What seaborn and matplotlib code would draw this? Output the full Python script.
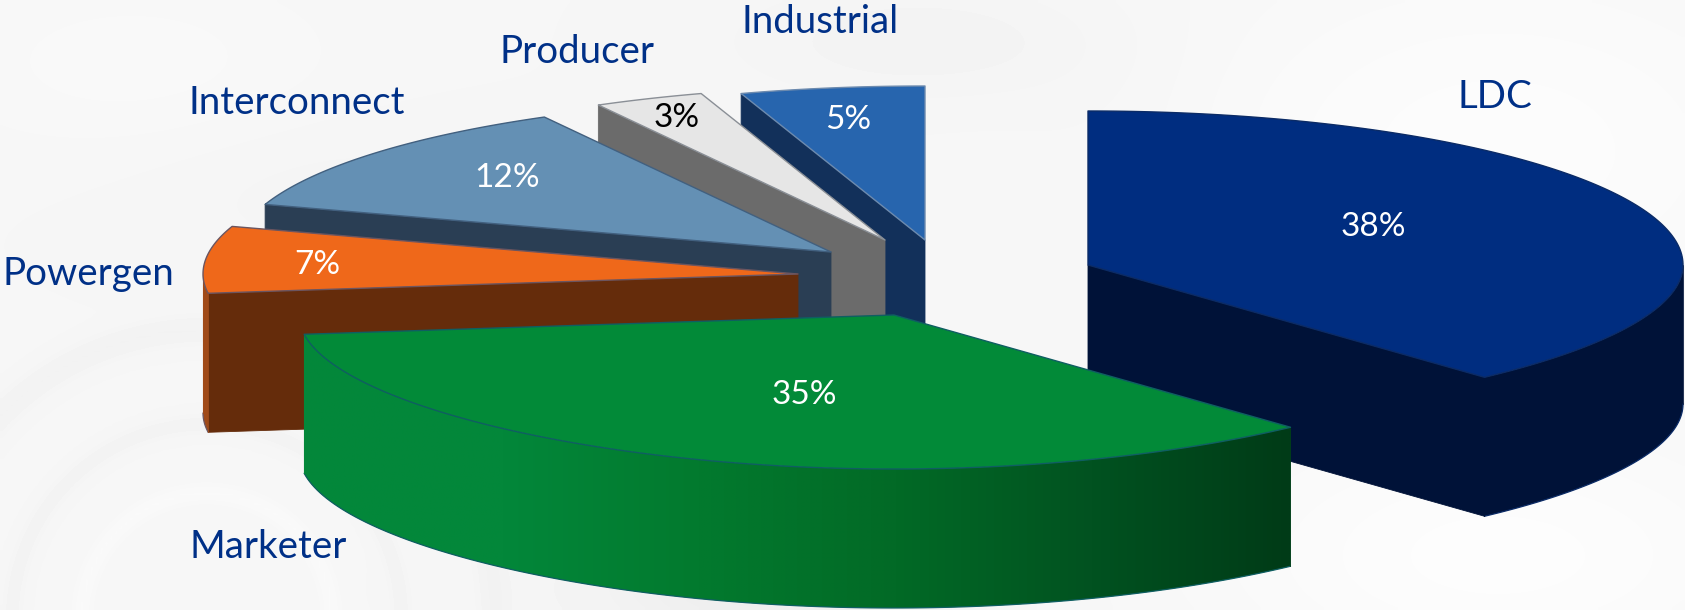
import numpy as np
import matplotlib
matplotlib.use("Agg")
import matplotlib.pyplot as plt
from matplotlib.patches import Polygon
import seaborn as sns

# Customer mix, clockwise from twelve o'clock
names = ["LDC", "Marketer", "Powergen", "Interconnect", "Producer", "Industrial"]
shares = [38, 35, 7, 12, 3, 5]

# Slice styling
top_colors = ["#002D80", "#028A38", "#EF681A", "#6490B4", "#E6E6E6", "#2765AE"]
cut_colors = ["#001238", "#028A38", "#652C0B", "#2A3E54", "#6B6B6B", "#12305A"]
rim_colors = [["#001238", "#001238"],
              ["#03883A", "#03873A", "#027A2E", "#026A26", "#015220", "#003B17"],
              ["#A04A18", "#A04A18"], ["#2A3E54", "#2A3E54"],
              ["#6B6B6B", "#6B6B6B"], ["#12305A", "#12305A"]]
edge_colors = ["#0B2B66", "#0F5E62", "#6B5560", "#42607F", "#8A8F96", "#6C8AAE"]
percent_colors = ["white", "white", "white", "white", "black", "white"]

# Where each slice is pulled out to, and where its captions sit
apex_x = [1088, 894, 798, 831, 885, 925]
apex_y = [265, 315, 274, 252, 240, 240]
name_xy = [(1495, 97), (268, 547), (88, 274), (297, 103), (577, 52), (820, 22)]
percent_xy = [(1373, 227), (804, 395), (317, 265), (507, 178), (677, 118), (848, 120)]

RX, RY, DEPTH = 595, 154, 139
TEXT_BLUE = "#003087"

sns.set_theme(style="white")
plt.rcParams["font.family"] = ["Lato", "DejaVu Sans"]

fig = plt.figure(figsize=(16.85, 6.10), dpi=100)
ax = fig.add_axes([0, 0, 1, 1])
ax.set_xlim(0, 1685)
ax.set_ylim(610, 0)
ax.axis("off")

# Pale watermark behind the pie: soft patches plus faint rings at lower left
gx, gy = np.meshgrid(np.linspace(0, 1685, 340), np.linspace(0, 610, 124))
field = np.full_like(gx, 0.965)
for cx, cy, sx, sy, amp in [(1500, 150, 330, 200, 0.022), (1500, 560, 300, 130, 0.025),
                            (760, 590, 170, 60, -0.035), (930, 40, 190, 60, -0.012),
                            (130, 60, 200, 90, 0.010), (330, 190, 200, 80, -0.006),
                            (1120, 130, 110, 90, -0.004)]:
    field += amp * np.exp(-((gx - cx) / sx) ** 2 - ((gy - cy) / sy) ** 2)
ring_dist = np.hypot(gx - 205, gy - 620)
for r0, width, amp in [(125, 10, 0.012), (195, 10, -0.012), (290, 14, -0.016)]:
    field += amp * np.exp(-((ring_dist - r0) / width) ** 2)
ax.imshow(field, extent=(0, 1685, 610, 0), cmap="gray", vmin=0, vmax=1,
          aspect="auto", zorder=0, interpolation="bilinear")


def rim_point(x0, y0, theta):
    # The front half of the disc is drawn slightly narrower than the back
    front = np.minimum(np.cos(theta), 0.0)
    return x0 + RX * np.sin(theta) * (1 - 0.05 * front ** 2), y0 - RY * np.cos(theta)


def cut_face(x0, y0, theta, color):
    px, py = rim_point(x0, y0, theta)
    return Polygon([(x0, y0), (px, py), (px, py + DEPTH), (x0, y0 + DEPTH)],
                   closed=True, fc=color, ec=color, lw=0.6, zorder=3)


# Slice boundaries come straight from the shares
bounds = np.radians(np.cumsum([0] + shares) * 3.6)

# Back slices first, the large front slice last
for i in [5, 4, 3, 2, 0, 1]:
    a0, a1 = bounds[i], bounds[i + 1]
    x0, y0 = apex_x[i], apex_y[i]

    if np.sin(a0) < -1e-6:
        ax.add_patch(cut_face(x0, y0, a0, cut_colors[i]))
    if np.sin(a1) > 1e-6:
        ax.add_patch(cut_face(x0, y0, a1, cut_colors[i]))

    # Outer wall: only the part of the rim that faces the viewer
    r0, r1 = max(a0, np.pi / 2), min(a1, 3 * np.pi / 2)
    if r1 > r0:
        rim = np.linspace(r0, r1, 120)
        xs, ys = rim_point(x0, y0, rim)
        outline = np.column_stack([np.r_[xs, xs[::-1]], np.r_[ys, ys[::-1] + DEPTH]])
        wall = Polygon(outline, closed=True, fc=rim_colors[i][0], ec="none", zorder=3)
        ax.add_patch(wall)
        if len(set(rim_colors[i])) > 1:
            # colour ramp running left to right across the wall
            ramp = np.array(sns.blend_palette(rim_colors[i], 256))[None, :, :]
            image = ax.imshow(ramp, extent=(xs.min(), xs.max(), ys.max() + DEPTH, ys.min()),
                              aspect="auto", zorder=3, interpolation="bilinear")
            image.set_clip_path(wall)
        ax.plot(xs, ys + DEPTH, color=edge_colors[i], lw=0.9, zorder=3)
        ax.plot([xs[0], xs[0]], [ys[0], ys[0] + DEPTH], color=rim_colors[i][-1], lw=0.6, zorder=3)
        ax.plot([xs[-1], xs[-1]], [ys[-1], ys[-1] + DEPTH], color=rim_colors[i][0], lw=0.8, zorder=3)

    # Top face
    arc = np.linspace(a0, a1, 160)
    xs, ys = rim_point(x0, y0, arc)
    ax.add_patch(Polygon(np.column_stack([np.r_[x0, xs], np.r_[y0, ys]]), closed=True,
                         fc=top_colors[i], ec=edge_colors[i], lw=1.0, joinstyle="round", zorder=3))

for i, name in enumerate(names):
    ax.text(*name_xy[i], name, color=TEXT_BLUE, fontsize=27.7, ha="center", va="center", zorder=5)
    ax.text(*percent_xy[i], f"{shares[i]}%", color=percent_colors[i], fontsize=24,
            ha="center", va="center", zorder=5)

fig.savefig("out.png", dpi=100)
